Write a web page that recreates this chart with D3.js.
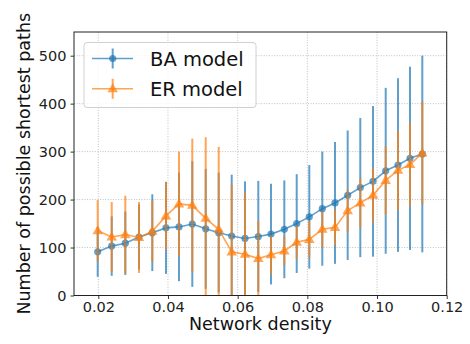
<!DOCTYPE html>
<html>
<head>
<meta charset="utf-8">
<script src="https://cdn.jsdelivr.net/npm/d3@7"></script>
<style>
  body { margin: 0; background: #fff; }
  svg { display: block; font-family: "DejaVu Sans", sans-serif; }
</style>
</head>
<body>
<script>
// densities shared by both models
const density = [0.01983, 0.02385, 0.02775, 0.03168, 0.03550, 0.03943, 0.04316, 0.04698,
  0.05083, 0.05456, 0.05829, 0.06211, 0.06592, 0.06957, 0.07339, 0.07695, 0.08056,
  0.08429, 0.08794, 0.09158, 0.09520, 0.09885, 0.10249, 0.10602, 0.10947, 0.11300];

const baMean = [91, 103, 109, 122, 131, 141, 143, 149, 139, 131, 124, 119, 123, 128,
  138, 150, 164, 181, 193, 209, 225, 238, 260, 272, 286, 295];
const baErr = [52, 62, 66, 68, 80, 96, 113, 131, 125, 125, 128, 119, 116, 105,
  102, 103, 108, 119, 127, 135, 145, 157, 173, 181, 191, 205];

const erMean = [135, 122, 127, 121, 134, 166, 191, 188, 161, 138, 91, 86, 77, 85,
  93, 111, 117, 138, 142, 177, 193, 209, 240, 261, 273, 297];
const erErr = [64, 73, 81, 74, 64, 70, 109, 139, 169, 172, 140, 128, 78, 40,
  30, 35, 38, 38, 37, 44, 51, 57, 71, 83, 87, 107];

const xTicks = [0.02, 0.04, 0.06, 0.08, 0.10, 0.12];
const yTicks = [0, 100, 200, 300, 400, 500];

const series = [
  { name: 'BA model', mean: baMean, err: baErr, color: '#1f77b4', marker: 'circle' },
  { name: 'ER model', mean: erMean, err: erErr, color: '#ff7f0e', marker: 'triangle' },
];

const width = 470;
const height = 344;
const margin = { top: 32, right: 23.3, bottom: 48.5, left: 74 };
const alpha = 0.7;

const svg = d3.select('body').append('svg')
  .attr('width', width)
  .attr('height', height);

const x = d3.scaleLinear()
  .domain([0.013025, 0.12])
  .range([margin.left, width - margin.right]);

const y = d3.scaleLinear()
  .domain([0, 549.4])
  .range([height - margin.bottom, margin.top]);

// clip so bars that go below zero stop at the axis
svg.append('clipPath').attr('id', 'plotClip')
  .append('rect')
  .attr('x', margin.left)
  .attr('y', margin.top)
  .attr('width', width - margin.left - margin.right)
  .attr('height', height - margin.top - margin.bottom);

// grid lines
const grid = svg.append('g').attr('class', 'grid');
grid.selectAll('line.gx').data(xTicks).join('line')
  .attr('x1', d => x(d)).attr('x2', d => x(d))
  .attr('y1', margin.top).attr('y2', height - margin.bottom)
  .attr('stroke', '#b0b0b0').attr('stroke-width', 0.8)
  .attr('stroke-dasharray', '1,1.6');
grid.selectAll('line.gy').data(yTicks).join('line')
  .attr('x1', margin.left).attr('x2', width - margin.right)
  .attr('y1', d => y(d)).attr('y2', d => y(d))
  .attr('stroke', '#b0b0b0').attr('stroke-width', 0.8)
  .attr('stroke-dasharray', '1,1.6');

const plot = svg.append('g').attr('clip-path', 'url(#plotClip)');

const triangle = d3.symbol().type(d3.symbolTriangle).size(48);

const lineGen = d3.line()
  .x((d, i) => x(density[i]))
  .y(d => y(d));

// draws error bars, connecting line and markers for one model
const drawSeries = function (s) {
  const g = plot.append('g');

  g.selectAll('line.err').data(s.mean).join('line')
    .attr('x1', (d, i) => x(density[i]))
    .attr('x2', (d, i) => x(density[i]))
    .attr('y1', (d, i) => y(d - s.err[i]))
    .attr('y2', (d, i) => y(d + s.err[i]))
    .attr('stroke', s.color)
    .attr('stroke-width', 2)
    .attr('opacity', alpha);

  g.append('path')
    .datum(s.mean)
    .attr('d', lineGen)
    .attr('fill', 'none')
    .attr('stroke', s.color)
    .attr('stroke-width', 1.6)
    .attr('opacity', alpha);

  if (s.marker === 'circle') {
    g.selectAll('circle').data(s.mean).join('circle')
      .attr('cx', (d, i) => x(density[i]))
      .attr('cy', d => y(d))
      .attr('r', 3.6)
      .attr('fill', s.color)
      .attr('opacity', alpha);
  } else {
    g.selectAll('path.mk').data(s.mean).join('path')
      .attr('class', 'mk')
      .attr('d', triangle)
      .attr('transform', (d, i) => `translate(${x(density[i])},${y(d) + 0.5})`)
      .attr('fill', s.color)
      .attr('opacity', alpha);
  }
};

series.forEach(drawSeries);

// axes
const xAxis = svg.append('g')
  .attr('transform', `translate(0,${height - margin.bottom})`)
  .call(d3.axisBottom(x).tickValues(xTicks).tickFormat(d3.format('.2f')).tickSizeOuter(0).tickSize(3.5).tickPadding(3));
const yAxis = svg.append('g')
  .attr('transform', `translate(${margin.left},0)`)
  .call(d3.axisLeft(y).tickValues(yTicks).tickSizeOuter(0).tickSize(3.5).tickPadding(4));

[xAxis, yAxis].forEach(a => {
  a.select('.domain').remove();
  a.selectAll('.tick line').attr('stroke', '#222').attr('stroke-width', 0.9);
  a.selectAll('.tick text')
    .attr('font-family', '"DejaVu Sans", sans-serif')
    .attr('font-size', 14.5)
    .attr('fill', '#222');
});

// frame
svg.append('rect')
  .attr('x', margin.left)
  .attr('y', margin.top)
  .attr('width', width - margin.left - margin.right)
  .attr('height', height - margin.top - margin.bottom)
  .attr('fill', 'none')
  .attr('stroke', '#222')
  .attr('stroke-width', 1);

// axis labels
svg.append('text')
  .attr('x', (margin.left + width - margin.right) / 2)
  .attr('y', 330)
  .attr('text-anchor', 'middle')
  .attr('font-size', 17.5)
  .attr('fill', '#111')
  .text('Network density');

svg.append('text')
  .attr('transform', `translate(30,${(margin.top + height - margin.bottom) / 2}) rotate(-90)`)
  .attr('text-anchor', 'middle')
  .attr('font-size', 17.5)
  .attr('fill', '#111')
  .text('Number of possible shortest paths');

// legend
const legend = svg.append('g');
legend.append('rect')
  .attr('x', 84).attr('y', 42.5)
  .attr('width', 172).attr('height', 65)
  .attr('rx', 3)
  .attr('fill', '#fff').attr('fill-opacity', 0.8)
  .attr('stroke', '#d0d0d0').attr('stroke-width', 1);

series.forEach((s, k) => {
  const ly = 58.5 + k * 30.3;
  const row = legend.append('g');
  row.append('line')
    .attr('x1', 92).attr('x2', 133)
    .attr('y1', ly).attr('y2', ly)
    .attr('stroke', s.color).attr('stroke-width', 1.6).attr('opacity', alpha);
  row.append('line')
    .attr('x1', 112.7).attr('x2', 112.7)
    .attr('y1', ly - 10).attr('y2', ly + 10)
    .attr('stroke', s.color).attr('stroke-width', 2).attr('opacity', alpha);
  if (s.marker === 'circle') {
    row.append('circle')
      .attr('cx', 112.7).attr('cy', ly).attr('r', 3.6)
      .attr('fill', s.color).attr('opacity', alpha);
  } else {
    row.append('path')
      .attr('d', triangle)
      .attr('transform', `translate(112.7,${ly + 0.5})`)
      .attr('fill', s.color).attr('opacity', alpha);
  }
  row.append('text')
    .attr('x', 150)
    .attr('y', ly + 7)
    .attr('font-size', 19.5)
    .attr('fill', '#111')
    .text(s.name);
});
</script>
</body>
</html>
